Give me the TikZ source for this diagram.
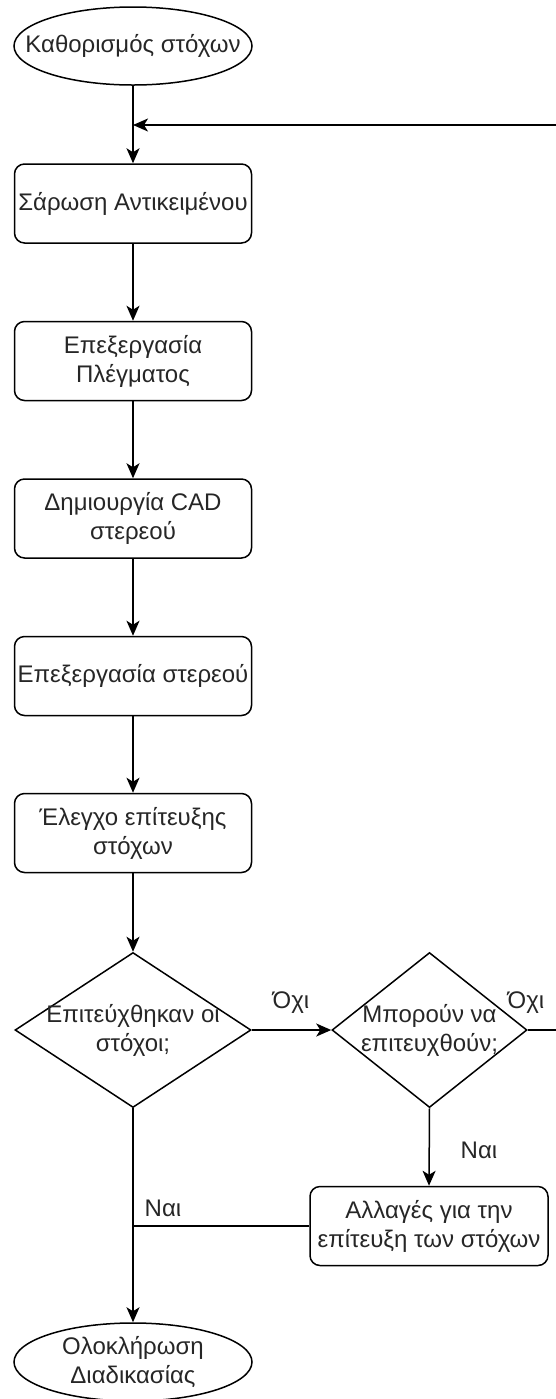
\documentclass[tikz,border=0pt]{standalone}
\usepackage{fontspec}
\setmainfont{Liberation Sans}
\usetikzlibrary{arrows.meta, shapes.geometric, positioning}

\begin{document}
\begin{tikzpicture}[x=0.5pt, y=-0.5pt, line width=0.75pt,
    >={Stealth[length=7.5pt, width=6.5pt, inset=2pt]},
    every node/.style={font=\fontsize{12}{14.5}\selectfont, text=black!85},
    terminal/.style={draw, ellipse, minimum width=119pt, minimum height=39pt, inner sep=0pt},
    process/.style={draw, rounded corners=5pt, align=center, minimum width=118.5pt, minimum height=39.5pt, inner sep=1pt},
    decision/.style={draw, diamond, inner sep=0pt, minimum height=77.5pt}]
    \useasboundingbox (0, 0) rectangle (556, 1399);

    \node[terminal, label={[align=center]center:Καθορισμός στόχων}] (start) at (133, 46) {};
    \node[process] (scan) at (133, 203.5) {Σάρωση Αντικειμένου};
    \node[process] (mesh) at (133, 361) {Επεξεργασία\\Πλέγματος};
    \node[process] (cad) at (133, 518.5) {Δημιουργία CAD\\στερεού};
    \node[process] (solid) at (133, 676) {Επεξεργασία στερεού};
    \node[process] (check) at (133, 833) {Έλεγχο επίτευξης\\στόχων};
    \node[decision, minimum width=118pt, label={[align=center]center:{Επιτεύχθηκαν οι\\στόχοι;}}] (D1) at (133, 1030) {};
    \node[decision, minimum width=97.5pt, label={[align=center]center:{Μπορούν να\\επιτευχθούν;}}] (D2) at (429.5, 1030) {};
    \node[process, minimum width=119pt] (alt) at (429, 1226) {Αλλαγές για την\\επίτευξη των στόχων};
    \node[terminal, label={[align=center]center:{Ολοκλήρωση\\Διαδικασίας}}] (end) at (133, 1362) {};

    \node (no1) at (291, 1003) {Όχι};
    \node (no2) at (526, 1003) {Όχι};
    \node (yes1) at (479, 1150) {Ναι};
    \node (yes2) at (163, 1208) {Ναι};

    \coordinate (join) at (133, 125);
    \coordinate (loopturn) at (640, 125);
    \coordinate (merge) at (133, 1226);

    \draw[->] (start) -- (scan);
    \draw[->] (scan) -- (mesh);
    \draw[->] (mesh) -- (cad);
    \draw[->] (cad) -- (solid);
    \draw[->] (solid) -- (check);
    \draw[->] (check) -- (D1);
    \draw[->] (D1.east) -- (D2.west);
    \draw[->] (D2.south) -- (alt.north);
    \draw[->] (D1.south) -- (end.north);
    \draw (alt.west) -- (merge);
    \draw[->] (D2.east) -| (loopturn) -- (join);
\end{tikzpicture}
\end{document}
